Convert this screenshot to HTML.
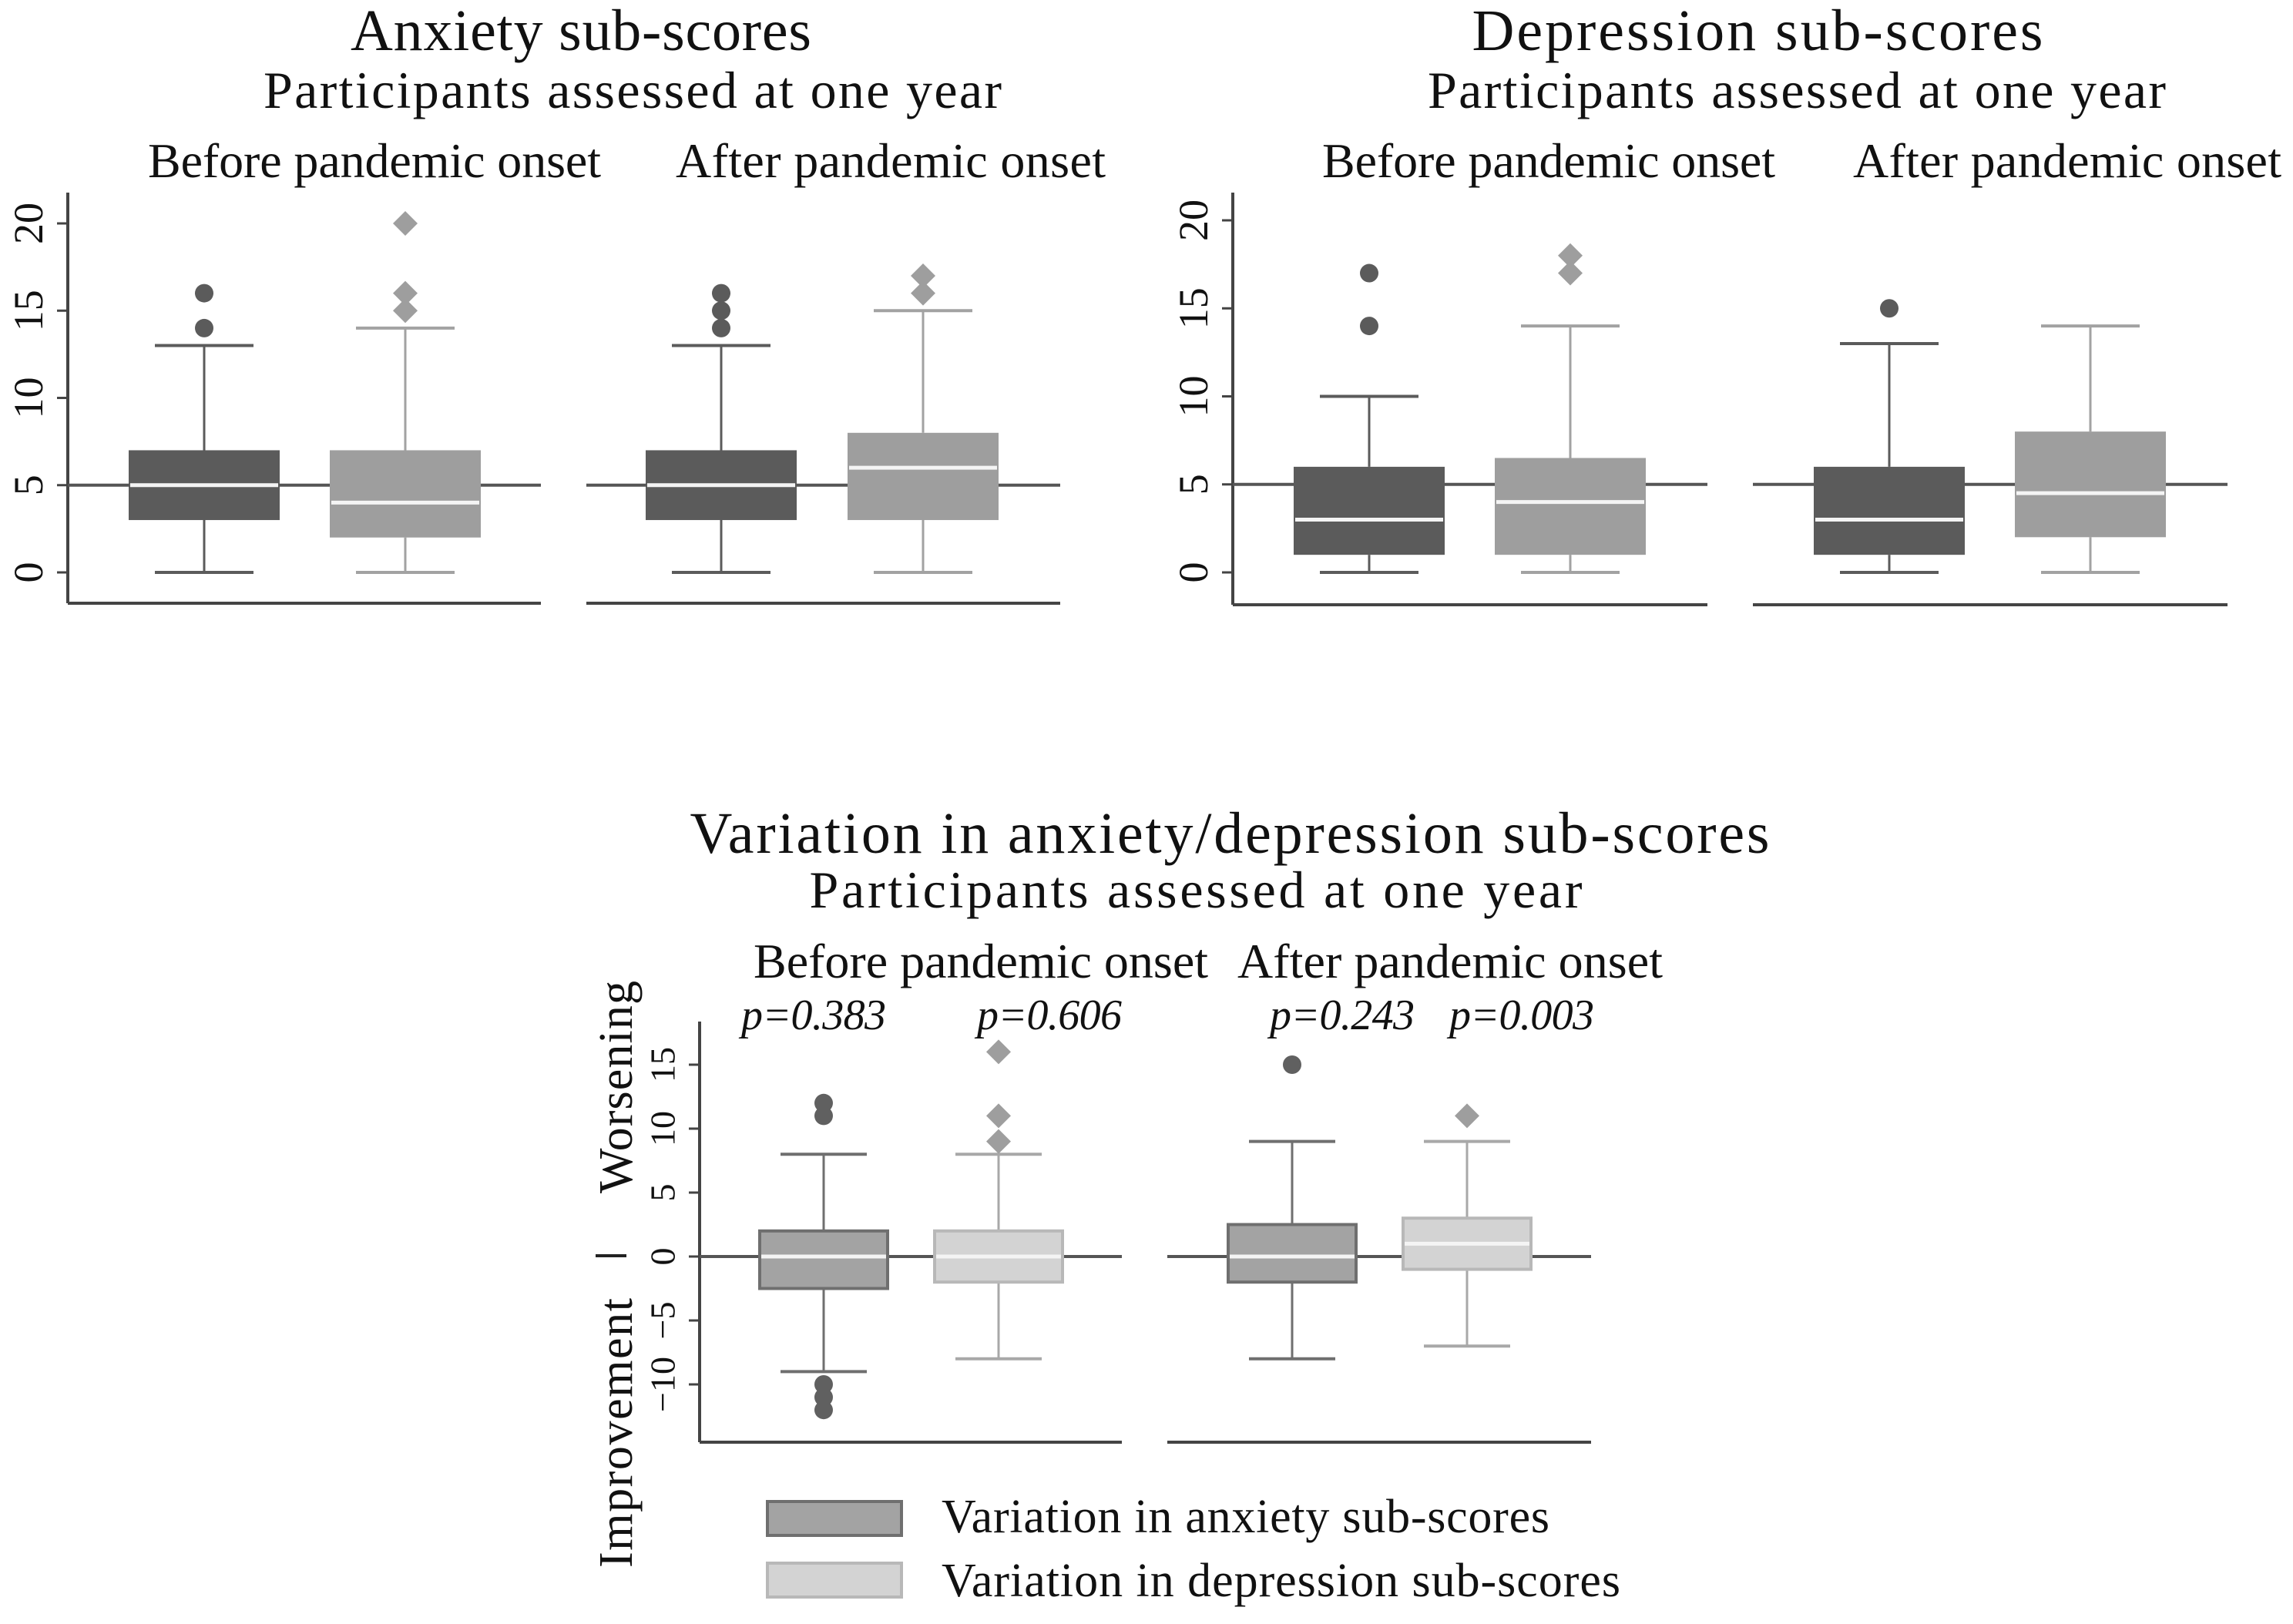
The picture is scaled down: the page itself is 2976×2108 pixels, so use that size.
<!DOCTYPE html>
<html><head><meta charset="utf-8"><title>Anxiety/depression sub-scores</title>
<style>
html,body{margin:0;padding:0;background:#fff;}
svg{display:block;}
text{font-family:"Liberation Serif",serif;fill:#111;}
</style></head>
<body>
<svg id="chart" width="2976" height="2108" viewBox="0 0 2976 2108" xmlns="http://www.w3.org/2000/svg">
<g>
<text x="754" y="65" font-size="76" text-anchor="middle" textLength="598">Anxiety sub-scores</text>
<text x="821" y="140" font-size="68" text-anchor="middle" textLength="958">Participants assessed at one year</text>
<text x="486" y="230" font-size="64" text-anchor="middle" textLength="588">Before pandemic onset</text>
<text x="1156" y="230" font-size="64" text-anchor="middle" textLength="558">After pandemic onset</text>
<text x="2281" y="65" font-size="76" text-anchor="middle" textLength="741">Depression sub-scores</text>
<text x="2332" y="140" font-size="68" text-anchor="middle" textLength="958">Participants assessed at one year</text>
<text x="2010" y="230" font-size="64" text-anchor="middle" textLength="588">Before pandemic onset</text>
<text x="2683" y="230" font-size="64" text-anchor="middle" textLength="556">After pandemic onset</text>
<text x="1596" y="1107" font-size="76" text-anchor="middle" textLength="1401">Variation in anxiety/depression sub-scores</text>
<text x="1552" y="1178" font-size="68" text-anchor="middle" textLength="1003">Participants assessed at one year</text>
<text x="1273" y="1269" font-size="64" text-anchor="middle" textLength="590">Before pandemic onset</text>
<text x="1882" y="1269" font-size="64" text-anchor="middle" textLength="552">After pandemic onset</text>
<text transform="translate(820,1411) rotate(-90)" font-size="62" text-anchor="middle" textLength="276">Worsening</text>
<text transform="translate(820,1860) rotate(-90)" font-size="62" text-anchor="middle" textLength="350">Improvement</text>
<line x1="773" y1="1630" x2="813" y2="1630" stroke="#222" stroke-width="4"/>
</g>
<g>
<rect x="996" y="1949" width="174" height="44" fill="#a3a3a3" stroke="#6f6f6f" stroke-width="4"/>
<text x="1222" y="1989" font-size="62" textLength="789">Variation in anxiety sub-scores</text>
<rect x="996" y="2029" width="174" height="44" fill="#d3d3d3" stroke="#b8b8b8" stroke-width="4"/>
<text x="1222" y="2072" font-size="62" textLength="881">Variation in depression sub-scores</text>
</g>
</svg>
<script>
// ---- data ----
const anxWhiskLo = [0, 0, 0, 0];
const anxQ1 = [3, 2, 3, 3];
const anxMedian = [5, 4, 5, 6];
const anxQ3 = [7, 7, 7, 8];
const anxWhiskHi = [13, 14, 13, 15];
const anxOutliers = [[14, 16], [15, 16, 20], [14, 15, 16], [16, 17]];

const depWhiskLo = [0, 0, 0, 0];
const depQ1 = [1, 1, 1, 2];
const depMedian = [3, 4, 3, 4.5];
const depQ3 = [6, 6.5, 6, 8];
const depWhiskHi = [10, 14, 13, 14];
const depOutliers = [[14, 17], [17, 18], [15], []];

const topTicks = [0, 5, 10, 15, 20];
const topRef = 5;

const varWhiskLo = [-9, -8, -8, -7];
const varQ1 = [-2.5, -2, -2, -1];
const varMedian = [0, 0, 0, 1];
const varQ3 = [2, 2, 2.5, 3];
const varWhiskHi = [8, 8, 9, 9];
const varOutliers = [[11, 12, -10, -11, -12], [9, 11, 16], [15], [11]];
const pValues = ["p=0.383", "p=0.606", "p=0.243", "p=0.003"];

const botTicks = [-10, -5, 0, 5, 10, 15];
const botTickLabels = ["\u221210", "\u22125", "0", "5", "10", "15"];
const botRef = 0;

// ---- rendering ----
const NS = "http://www.w3.org/2000/svg";
const svg = document.getElementById("chart");
function mk(tag, attrs, parent) {
  const e = document.createElementNS(NS, tag);
  for (const k in attrs) e.setAttribute(k, attrs[k]);
  (parent || svg).appendChild(e);
  return e;
}

function drawChart(cfg) {
  const g = mk("g", {});
  
  
  const y = v => cfg.y0 - v * cfg.unit;
  const ax = mk("line", {x1: cfg.axisX, y1: cfg.axisTop, x2: cfg.axisX, y2: cfg.baseY, stroke: "#444", "stroke-width": 4}, g);
  
  
  cfg.ticks.forEach((t, i) => {
    const tk = mk("line", {x1: cfg.axisX - 14, y1: y(t), x2: cfg.axisX, y2: y(t), stroke: "#444", "stroke-width": 3}, g);
    
    
    const lb = mk("text", {transform: "translate(" + (cfg.axisX - cfg.labOff) + "," + y(t) + ") rotate(-90)", "font-size": cfg.tickSize, "text-anchor": "middle", "dominant-baseline": "central", fill: "#333"}, g);
    lb.textContent = cfg.tickLabels ? cfg.tickLabels[i] : String(t);
    
    
  });
  cfg.panels.forEach(p => {
    const b = mk("line", {x1: p[0], y1: cfg.baseY, x2: p[1], y2: cfg.baseY, stroke: "#444", "stroke-width": 4}, g);
    
    
    const r = mk("line", {x1: p[0], y1: y(cfg.ref), x2: p[1], y2: y(cfg.ref), stroke: "#555", "stroke-width": 4}, g);
    
    
  });
  cfg.centers.forEach((cx, i) => {
    const st = cfg.styles[i % 2];
    const bw = cfg.boxW, cw = cfg.capW;
    const bg = mk("g", {}, g);
    
    
    const w1 = mk("line", {x1: cx, y1: y(cfg.hi[i]), x2: cx, y2: y(cfg.q3[i]), stroke: st.wh, "stroke-width": 3}, bg);
    
    
    const w2 = mk("line", {x1: cx, y1: y(cfg.q1[i]), x2: cx, y2: y(cfg.lo[i]), stroke: st.wh, "stroke-width": 3}, bg);
    
    
    const c1 = mk("line", {x1: cx - cw / 2, y1: y(cfg.hi[i]), x2: cx + cw / 2, y2: y(cfg.hi[i]), stroke: st.wh, "stroke-width": 4}, bg);
    
    
    const c2 = mk("line", {x1: cx - cw / 2, y1: y(cfg.lo[i]), x2: cx + cw / 2, y2: y(cfg.lo[i]), stroke: st.wh, "stroke-width": 4}, bg);
    
    
    const rc = mk("rect", {x: cx - bw / 2, y: y(cfg.q3[i]), width: bw, height: y(cfg.q1[i]) - y(cfg.q3[i]), fill: st.fill, stroke: st.stroke, "stroke-width": st.sw}, bg);
    
    
    const md = mk("line", {x1: cx - bw / 2 + 2, y1: y(cfg.med[i]), x2: cx + bw / 2 - 2, y2: y(cfg.med[i]), stroke: "#f4f4f4", "stroke-width": 5}, bg);
    
    
    cfg.out[i].forEach(v => {
      let o;
      if (st.marker === "circle") {
        o = mk("circle", {cx: cx, cy: y(v), r: 12, fill: st.mk}, bg);
      } else {
        const d = 16, yy = y(v);
        o = mk("polygon", {points: cx + "," + (yy - d) + " " + (cx + d) + "," + yy + " " + cx + "," + (yy + d) + " " + (cx - d) + "," + yy, fill: st.mk}, bg);
      }
      
      
    });
    if (cfg.pv) {
      const pt = mk("text", {x: cfg.pvX[i], y: cfg.pvY, "font-size": 56, "font-style": "italic", "text-anchor": "middle", textLength: 188}, g);
      pt.textContent = cfg.pv[i];
      
      
    }
  });
}

const topStyles = [
  {fill: "#5b5b5b", stroke: "none", sw: 0, wh: "#5b5b5b", mk: "#5b5b5b", marker: "circle"},
  {fill: "#9e9e9e", stroke: "none", sw: 0, wh: "#a2a2a2", mk: "#9e9e9e", marker: "diamond"}
];
const botStyles = [
  {fill: "#a3a3a3", stroke: "#6f6f6f", sw: 4, wh: "#6f6f6f", mk: "#606060", marker: "circle"},
  {fill: "#d3d3d3", stroke: "#b8b8b8", sw: 4, wh: "#a8a8a8", mk: "#9e9e9e", marker: "diamond"}
];

drawChart({name: "anxiety-chart", y0: 743, unit: 22.65, axisX: 88, axisTop: 250, baseY: 783, labOff: 51, tickSize: 54,
  ticks: topTicks, ref: topRef, panels: [[88, 702], [761, 1376]], centers: [265, 526, 936, 1198],
  boxW: 196, capW: 128, styles: topStyles,
  lo: anxWhiskLo, q1: anxQ1, med: anxMedian, q3: anxQ3, hi: anxWhiskHi, out: anxOutliers});

drawChart({name: "depression-chart", y0: 743, unit: 22.85, axisX: 1600, axisTop: 250, baseY: 785, labOff: 51, tickSize: 54,
  ticks: topTicks, ref: topRef, panels: [[1600, 2216], [2275, 2891]], centers: [1777, 2038, 2452, 2713],
  boxW: 196, capW: 128, styles: topStyles,
  lo: depWhiskLo, q1: depQ1, med: depMedian, q3: depQ3, hi: depWhiskHi, out: depOutliers});

drawChart({name: "variation-chart", y0: 1631, unit: 16.6, axisX: 908, axisTop: 1326, baseY: 1872, labOff: 48, tickSize: 46,
  ticks: botTicks, tickLabels: botTickLabels, ref: botRef, panels: [[908, 1456], [1515, 2065]], centers: [1069, 1296, 1677, 1904],
  boxW: 166, capW: 112, styles: botStyles,
  lo: varWhiskLo, q1: varQ1, med: varMedian, q3: varQ3, hi: varWhiskHi, out: varOutliers,
  pv: pValues, pvX: [1056, 1362, 1742, 1975], pvY: 1336});
</script>
</body></html>
